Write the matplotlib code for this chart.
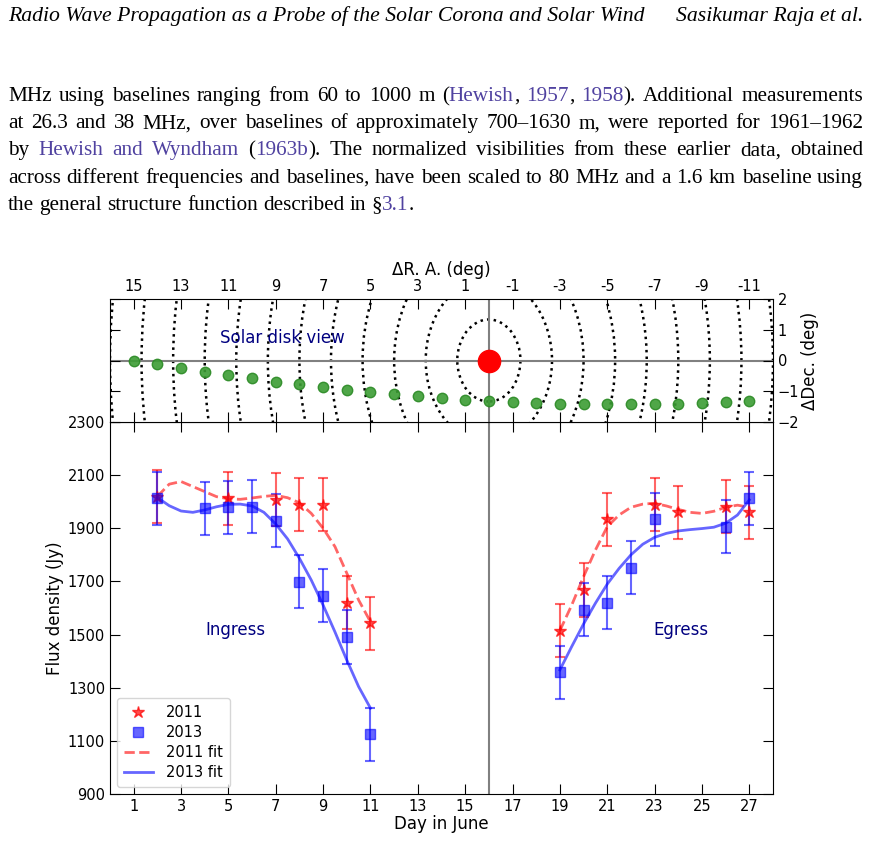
import matplotlib
matplotlib.use("Agg")
import matplotlib.pyplot as plt
from matplotlib.patches import Circle

# ---- page text ----
header_left = "Radio Wave Propagation as a Probe of the Solar Corona and Solar Wind"
header_right = "Sasikumar Raja et al."
# '|' toggles link colour
para_lines = [
    "MHz using baselines ranging from 60 to 1000 m (|Hewish|, |1957|, |1958|).  Additional measurements",
    "at 26.3 and 38 MHz, over baselines of approximately 700\u20131630 m, were reported for 1961\u20131962",
    "by |Hewish and Wyndham| (|1963b|).  The normalized visibilities from these earlier data, obtained",
    "across different frequencies and baselines, have been scaled to 80 MHz and a 1.6 km baseline using",
    "the general structure function described in \u00a7|3.1|.",
]

# ---- solar disk view ----
ra_ticks = [15, 13, 11, 9, 7, 5, 3, 1, -1, -3, -5, -7, -9, -11]
ra_labels = ["15", "13", "11", "9", "7", "5", "3", "1", "-1", "-3", "-5", "-7", "-9", "-11"]
ring_radii = [1.333, 2.667, 4.0, 5.333, 6.667, 8.0, 9.333, 10.667, 12.0, 13.333, 14.667, 16.0]
src_ra = [15, 14, 13, 12, 11, 10, 9, 8, 7, 6, 5, 4, 3, 2, 1, 0,
          -1, -2, -3, -4, -5, -6, -7, -8, -9, -10, -11]
src_dec = [0.0, -0.10, -0.24, -0.36, -0.48, -0.58, -0.69, -0.78, -0.87, -0.95, -1.04,
           -1.10, -1.17, -1.23, -1.29, -1.32, -1.35, -1.38, -1.40, -1.42, -1.43, -1.43,
           -1.43, -1.42, -1.39, -1.36, -1.33]

# ---- flux densities ----
days_2011 = [2, 5, 7, 8, 9, 10, 11, 19, 20, 21, 23, 24, 26, 27]
flux_2011 = [2019, 2013, 2008, 1988, 1988, 1620, 1542, 1515, 1668, 1934, 1988, 1961, 1981, 1961]
err_2011 = [100] * len(days_2011)
days_2013 = [2, 4, 5, 6, 7, 8, 9, 10, 11, 19, 20, 21, 22, 23, 26, 27]
flux_2013 = [2013, 1975, 1979, 1981, 1929, 1699, 1646, 1491, 1125, 1358, 1593, 1620, 1751, 1934, 1906, 2013]
err_2013 = [100] * len(days_2013)

# fitted curves
fit_days_in = [2, 2.5, 3, 3.5, 4, 4.5, 5, 5.5, 6, 6.5, 7, 7.5, 8, 8.5, 9, 9.5, 10, 10.5, 11]
fit11_in = [2020, 2066, 2076, 2057, 2038, 2019, 2011, 2009, 2014, 2020, 2024, 2015, 1996,
            1956, 1900, 1831, 1731, 1630, 1548]
fit13_in = [2016, 1985, 1965, 1960, 1969, 1981, 1990, 1991, 1984, 1960, 1916, 1860, 1787,
            1705, 1611, 1510, 1404, 1304, 1223]
fit_days_eg = [19, 19.5, 20, 20.5, 21, 21.5, 22, 22.5, 23, 23.5, 24, 24.5, 25, 25.5, 26, 26.5, 27]
fit11_eg = [1515, 1611, 1718, 1818, 1906, 1950, 1979, 1991, 1994, 1984, 1971, 1960, 1956,
            1964, 1979, 1987, 1979]
fit13_eg = [1367, 1455, 1540, 1618, 1690, 1749, 1800, 1840, 1866, 1881, 1890, 1895, 1899,
            1904, 1919, 1950, 2007]

W, H = 871, 842
fig = plt.figure(figsize=(W / 100, H / 100), dpi=100)
renderer = fig.canvas.get_renderer()
link = "#5042a0"
serif = "Liberation Serif"
tsize = 15.3


def fy(py):
    return 1 - py / H


fig.text(8 / W, fy(21), header_left, family=serif, style="italic", size=15.7, va="baseline")
fig.text(863 / W, fy(21), header_right, family=serif, style="italic", size=15.7,
         va="baseline", ha="right")

# justified paragraph
x0, x1 = 8, 863
base = 101
for i, line in enumerate(para_lines):
    y = fy(base + i * 27.2)
    words = []
    state = False
    for w in line.split():
        pieces = []
        for j, p in enumerate(w.split("|")):
            if j > 0:
                state = not state
            if p:
                t = fig.text(0, y, p, family=serif, size=tsize, va="baseline",
                             color=link if state else "black")
                pieces.append((t, t.get_window_extent(renderer).width))
        words.append(pieces)
    widths = [sum(pw for _, pw in ws) for ws in words]
    if i < len(para_lines) - 1:
        gap = (x1 - x0 - sum(widths)) / (len(words) - 1)
    else:
        gap = 0.25 * tsize * 100 / 72
    x = x0
    for ws, ww in zip(words, widths):
        xx = x
        for t, pw in ws:
            t.set_x(xx / W)
            xx += pw
        x += ww + gap

# ---- axes ----
ax = fig.add_axes([110 / W, fy(794), 663 / W, 372 / H])
ax2 = fig.add_axes([110 / W, fy(422), 663 / W, 123 / H])

# top panel
for r in ring_radii:
    ax2.add_patch(Circle((0, 0), r, fill=False, linestyle=":", lw=1.8, color="black"))
ax2.axhline(0, color="gray", lw=1.5, zorder=1)
ax2.axvline(0, color="gray", lw=1.5, zorder=1)
ax2.plot(src_ra, src_dec, "o", ms=7.5, mfc="#3c9c34", mec="#2b8a25", alpha=0.9, zorder=3)
ax2.plot(0, 0, "o", ms=16, color="red", zorder=4)
ax2.text(8.7, 0.72, "Solar disk view", color="#000080", fontsize=12, ha="center", va="center")
ax2.set_xlim(16, -12)
ax2.set_ylim(-2, 2)
ax2.set_xticks(ra_ticks)
ax2.set_xticklabels(ra_labels)
ax2.set_yticks([-2, -1, 0, 1, 2])
ax2.xaxis.tick_top()
ax2.xaxis.set_label_position("top")
ax2.yaxis.tick_right()
ax2.yaxis.set_label_position("right")
ax2.tick_params(direction="in", length=7, labelsize=10.5, top=True, bottom=True,
                left=True, right=True, labelleft=False, labelbottom=False)
ax2.set_xlabel("\u0394R. A. (deg)", fontsize=12, labelpad=3)
ax2.set_ylabel("\u0394Dec. (deg)", fontsize=12, labelpad=1)

# main panel
ax.axvline(16, color="gray", lw=1.5, zorder=1)
ebkw = dict(fmt="none", elinewidth=1.5, capsize=3.5, capthick=1.5, alpha=0.6)
ax.errorbar(days_2011, flux_2011, yerr=err_2011, ecolor="red", **ebkw)
ax.errorbar(days_2013, flux_2013, yerr=err_2013, ecolor="blue", **ebkw)
ax.plot(days_2011, flux_2011, "*", color="red", ms=9, alpha=0.7, label="2011", zorder=4)
ax.plot(days_2013, flux_2013, "s", color="blue", ms=7.5, alpha=0.6, label="2013", zorder=4)
ax.plot(fit_days_in, fit11_in, "--", color="red", lw=2, alpha=0.6, label="2011 fit")
ax.plot(fit_days_eg, fit11_eg, "--", color="red", lw=2, alpha=0.6)
ax.plot(fit_days_in, fit13_in, "-", color="blue", lw=2, alpha=0.6, label="2013 fit")
ax.plot(fit_days_eg, fit13_eg, "-", color="blue", lw=2, alpha=0.6)
ax.text(5.3, 1517, "Ingress", color="#000080", fontsize=12, ha="center", va="center")
ax.text(24.1, 1517, "Egress", color="#000080", fontsize=12, ha="center", va="center")
ax.set_xlim(0, 28)
ax.set_ylim(900, 2300)
ax.set_xticks(range(1, 28, 2))
ax.set_yticks(range(900, 2301, 200))
ax.tick_params(direction="in", length=7, labelsize=10.5, top=True, right=True)
ax.set_xlabel("Day in June", fontsize=12, labelpad=1)
ax.set_ylabel("Flux density (Jy)", fontsize=12, labelpad=3)
ax.legend(loc="lower left", fontsize=10.5, handlelength=2.0, handletextpad=0.9,
          borderpad=0.45, labelspacing=0.35)

fig.savefig("out.png", dpi=100)
